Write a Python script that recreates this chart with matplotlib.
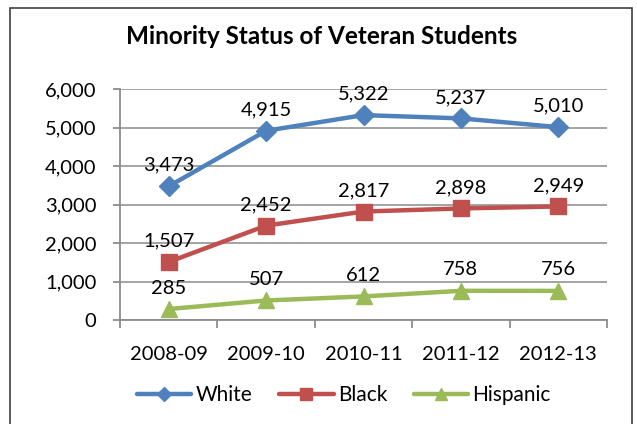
import matplotlib
matplotlib.use("Agg")
import matplotlib.pyplot as plt
from matplotlib.patches import Rectangle

categories = ["2008-09", "2009-10", "2010-11", "2011-12", "2012-13"]
white = [3473, 4915, 5322, 5237, 5010]
black = [1507, 2452, 2817, 2898, 2949]
hispanic = [285, 507, 612, 758, 756]
series_names = ["White", "Black", "Hispanic"]
yticks = [0, 1000, 2000, 3000, 4000, 5000, 6000]

plt.rcParams['font.family'] = ['Lato', 'DejaVu Sans']

fig = plt.figure(figsize=(6.37, 4.24), dpi=100)
ax = fig.add_axes([120/637, 1-320/424, 487/637, 231/424])

# outer chart border
fig.patches.append(Rectangle((10/637, -0.05), 622/637, 1.05 - 8/424,
                             transform=fig.transFigure, fill=False,
                             edgecolor='#404040', linewidth=1.2))

colors = ['#4F81BD', '#C0504D', '#9BBB59']
markers = ['D', 's', '^']
msizes = [10, 11, 12]
x = list(range(len(categories)))
for vals, name, c, m, ms in zip([white, black, hispanic], series_names, colors, markers, msizes):
    ax.plot(x, vals, color=c, lw=3.2, marker=m, markersize=ms, label=name,
            solid_capstyle='round', zorder=3)
    for xi, v in zip(x, vals):
        ax.annotate(f"{v:,}", (xi, v), xytext=(0, 9), textcoords='offset points',
                    ha='center', va='bottom', fontsize=14.5, color='black', zorder=4)

ax.set_xlim(-0.5, 4.5)
ax.set_ylim(0, 6000)
ax.set_yticks(yticks)
ax.set_yticklabels([f"{v:,}" for v in yticks])
ax.set_xticks(x)
ax.set_xticklabels(categories)
ax.set_xticks([i - 0.5 for i in range(len(categories) + 1)], minor=True)
ax.tick_params(axis='x', which='major', length=0, pad=19, labelsize=14.5)
ax.tick_params(axis='x', which='minor', length=6, color='#8c8c8c', width=1.3)
ax.tick_params(axis='y', length=5, color='#8c8c8c', width=1.3, pad=12, labelsize=14.5)
ax.grid(axis='y', color='#9c9c9c', lw=1.3)
ax.set_axisbelow(True)
for s in ['top', 'right']:
    ax.spines[s].set_visible(False)
for s in ['left', 'bottom']:
    ax.spines[s].set_color('#8c8c8c')
    ax.spines[s].set_linewidth(1.3)

fig.text(322/637, 1-37/424, "Minority Status of Veteran Students", ha='center', va='center',
         fontsize=17.5, fontweight='bold')

leg = fig.legend(loc='center', bbox_to_anchor=(344/637, 1-395/424), ncol=3, frameon=False,
                 fontsize=15, handlelength=2.6, handletextpad=0.2, columnspacing=1.3,
                 markerscale=0.75)

fig.savefig("out.png", dpi=100)
